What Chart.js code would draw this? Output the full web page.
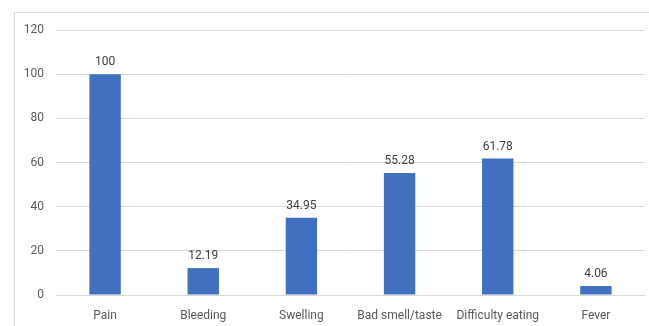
<!DOCTYPE html>
<html>
<head>
<meta charset="utf-8">
<script src="https://cdn.jsdelivr.net/npm/chart.js@4/dist/chart.umd.min.js"></script>
<style>
  body { margin: 0; background: #fff; }
  #wrap { position: relative; width: 649px; height: 326px; overflow: hidden; }
  #frame { position: absolute; left: 14px; top: 12px; width: 700px; height: 400px; border: 1px solid #d9d9d9; }
  canvas { position: absolute; left: 0; top: 0; }
</style>
</head>
<body>
<div id="wrap">
  <div id="frame"></div>
  <canvas id="symptomChart" width="649" height="326"></canvas>
</div>
<script>
const categories = ["Pain", "Bleeding", "Swelling", "Bad smell/taste", "Difficulty eating", "Fever"];
const values = [100, 12.19, 34.95, 55.28, 61.78, 4.06];
const yTicks = [0, 20, 40, 60, 80, 100, 120];

const labelFont = "Roboto, 'Liberation Sans', sans-serif";

// draw the value above each bar
const barValues = {
  id: "barValues",
  afterDatasetsDraw(chart) {
    const ctx = chart.ctx;
    const meta = chart.getDatasetMeta(0);
    ctx.save();
    ctx.font = "12px " + labelFont;
    ctx.fillStyle = "#404040";
    ctx.textAlign = "center";
    ctx.textBaseline = "bottom";
    meta.data.forEach((bar, i) => {
      ctx.fillText(String(values[i]), bar.x, bar.y - 6);
    });
    ctx.restore();
  },
};

const ctx = document.getElementById("symptomChart").getContext("2d");

new Chart(ctx, {
  type: "bar",
  data: {
    labels: categories,
    datasets: [
      {
        data: values,
        backgroundColor: "#4170C0",
        categoryPercentage: 1,
        barPercentage: 0.32,
      },
    ],
  },
  options: {
    responsive: false,
    animation: false,
    layout: { padding: { top: 30, right: 4, bottom: 0, left: 0 } },
    plugins: {
      legend: { display: false },
      tooltip: { enabled: false },
    },
    scales: {
      x: {
        grid: { display: false },
        border: { display: false },
        ticks: {
          color: "#595959",
          font: { family: labelFont, size: 12 },
          padding: 6,
          maxRotation: 0,
        },
        afterFit: (scale) => { scale.height = 31; },
      },
      y: {
        min: 0,
        max: 120,
        afterBuildTicks: (scale) => { scale.ticks = yTicks.map((v) => ({ value: v })); },
        grid: { color: "#d9d9d9", drawTicks: false },
        border: { display: false },
        ticks: {
          color: "#595959",
          font: { family: labelFont, size: 12 },
          padding: 12,
        },
        afterFit: (scale) => { scale.width = 56; },
      },
    },
  },
  plugins: [barValues],
});
</script>
</body>
</html>
